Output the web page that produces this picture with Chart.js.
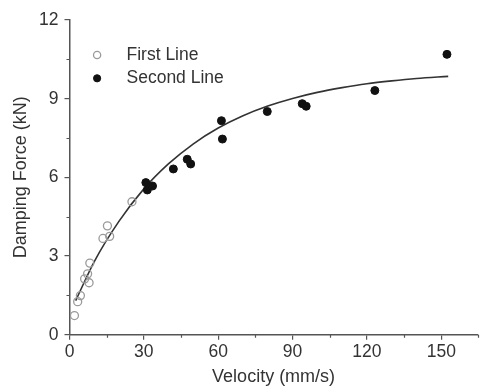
<!DOCTYPE html>
<html>
<head>
<meta charset="utf-8">
<script src="https://cdn.jsdelivr.net/npm/chart.js@4"></script>
<style>
  html, body { margin: 0; padding: 0; background: #fff; }
  #wrap { width: 483px; height: 388px; }
</style>
</head>
<body>
<div id="wrap"><canvas id="chart1"></canvas></div>
<script>
// values
var firstX = [2.0, 3.3, 4.4, 6.1, 7.3, 7.9, 8.2, 13.5, 15.3, 16.2, 25.2];
var firstY = [0.73, 1.26, 1.49, 2.13, 2.32, 1.98, 2.73, 3.67, 4.15, 3.75, 5.07];

var secondX = [30.8, 31.4, 33.5, 41.9, 47.5, 48.9, 61.3, 61.7, 79.8, 93.9, 95.5, 123.2, 152.3];
var secondY = [5.80, 5.52, 5.67, 6.32, 6.69, 6.51, 8.16, 7.46, 8.51, 8.81, 8.71, 9.31, 10.69];

// fitted curve
var fitX = [2.5, 10, 20, 30, 40, 50, 60, 70, 80, 90, 100, 110, 120, 130, 140, 152.8];
var fitY = [1.30, 2.79, 4.33, 5.56, 6.52, 7.28, 7.88, 8.35, 8.72, 9.01, 9.24, 9.42, 9.57, 9.68, 9.77, 9.85];

var seriesNames = ['First Line', 'Second Line'];

var axisColor = '#555';
var textColor = '#333';
var fontFamily = '"Liberation Sans", Arial, Helvetica, sans-serif';

function pts(xs, ys) {
    return xs.map(function (x, i) { return { x: x, y: ys[i] }; });
}

// short minor ticks between the labelled ones
var minorTicks = {
    id: 'minorTicks',
    afterDraw: function (chart) {
        var ctx = chart.ctx, xs = chart.scales.x, ys = chart.scales.y;
        ctx.save();
        ctx.strokeStyle = axisColor;
        ctx.lineWidth = 1.2;
        ctx.beginPath();
        for (var v = 15; v <= 165; v += 30) {
            var px = Math.round(xs.getPixelForValue(v)) + 0.5;
            if (px > chart.width) break;
            ctx.moveTo(px, xs.top);
            ctx.lineTo(px, xs.top + 3);
        }
        for (var w = 1.5; w <= ys.max; w += 3) {
            var py = Math.round(ys.getPixelForValue(w)) + 0.5;
            ctx.moveTo(ys.right, py);
            ctx.lineTo(ys.right - 3, py);
        }
        ctx.stroke();
        ctx.restore();
    }
};

// legend inside the plot, upper left
var innerLegend = {
    id: 'innerLegend',
    afterDraw: function (chart) {
        var ctx = chart.ctx, area = chart.chartArea;
        var rows = [chart.data.datasets[0], chart.data.datasets[1]];
        ctx.save();
        ctx.font = '17.5px ' + fontFamily;
        ctx.textBaseline = 'middle';
        rows.forEach(function (ds, i) {
            var y = area.top + 35 + i * 23.3;
            var x = area.left + 27.6;
            ctx.fillStyle = ds.backgroundColor;
            ctx.strokeStyle = ds.borderColor;
            ctx.lineWidth = ds.borderWidth;
            ctx.beginPath();
            ctx.arc(x, y, 3.6, 0, Math.PI * 2);
            ctx.fill();
            ctx.stroke();
            ctx.fillStyle = textColor;
            ctx.fillText(ds.label, area.left + 57, y);
        });
        ctx.restore();
    }
};

var ctx1 = document.getElementById('chart1').getContext('2d');
var chart1 = new Chart(ctx1, {
    type: 'scatter',
    data: {
        datasets: [{
            label: seriesNames[0],
            data: pts(firstX, firstY),
            backgroundColor: 'rgba(255,255,255,0)',
            borderColor: '#9a9a9a',
            borderWidth: 1.3,
            pointRadius: 4,
            order: 0
        }, {
            label: seriesNames[1],
            data: pts(secondX, secondY),
            backgroundColor: '#111',
            borderColor: '#111',
            borderWidth: 1,
            pointRadius: 4,
            order: 1
        }, {
            label: 'Fit',
            data: pts(fitX, fitY),
            showLine: true,
            borderColor: '#333',
            borderWidth: 1.6,
            pointRadius: 0,
            cubicInterpolationMode: 'monotone',
            order: 2
        }]
    },
    options: {
        responsive: true,
        maintainAspectRatio: false,
        animation: false,
        layout: { padding: { top: 20, right: 0, left: 0, bottom: 0 } },
        plugins: {
            legend: { display: false },
            tooltip: { enabled: false }
        },
        scales: {
            x: {
                type: 'linear',
                min: 0,
                max: 164.7,
                afterFit: function (scale) { scale.height = 53.3; },
                ticks: {
                    stepSize: 30,
                    includeBounds: false,
                    padding: 2,
                    color: textColor,
                    font: { family: fontFamily, size: 17.5 }
                },
                grid: { drawOnChartArea: false, drawTicks: true, tickLength: 5, color: axisColor, lineWidth: 1.2 },
                border: { display: true, color: axisColor, width: 1.5 },
                title: {
                    display: true,
                    text: 'Velocity (mm/s)',
                    color: textColor,
                    padding: { top: 0, bottom: 0 },
                    font: { family: fontFamily, size: 18 }
                }
            },
            y: {
                type: 'linear',
                min: 0,
                max: 12,
                afterFit: function (scale) { scale.width = 69.5; },
                ticks: {
                    stepSize: 3,
                    padding: 6,
                    color: textColor,
                    font: { family: fontFamily, size: 17.5 }
                },
                grid: { drawOnChartArea: false, drawTicks: true, tickLength: 5, color: axisColor, lineWidth: 1.2 },
                border: { display: true, color: axisColor, width: 1.5 },
                title: {
                    display: true,
                    text: 'Damping Force (kN)',
                    color: textColor,
                    padding: { top: 10, bottom: 0 },
                    font: { family: fontFamily, size: 18 }
                }
            }
        }
    },
    plugins: [minorTicks, innerLegend]
});
</script>
</body>
</html>
